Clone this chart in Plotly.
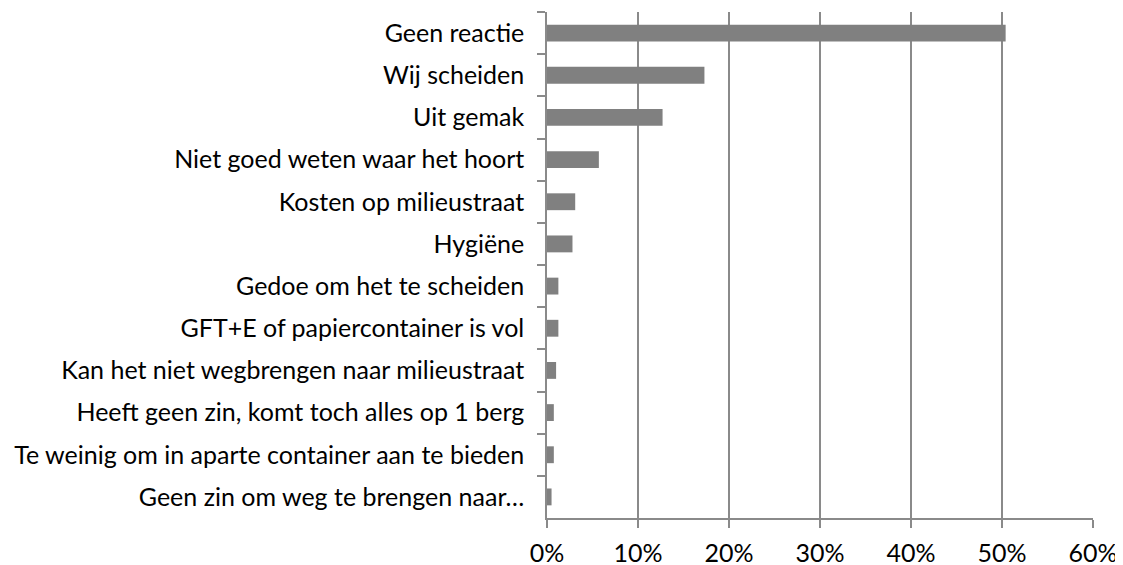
import plotly.graph_objects as go

categories = [
    "Geen reactie",
    "Wij scheiden",
    "Uit gemak",
    "Niet goed weten waar het hoort",
    "Kosten op milieustraat",
    "Hygiëne",
    "Gedoe om het te scheiden",
    "GFT+E of papiercontainer is vol",
    "Kan het niet wegbrengen naar milieustraat",
    "Heeft geen zin, komt toch alles op 1 berg",
    "Te weinig om in aparte container aan te bieden",
    "Geen zin om weg te brengen naar…",
]
values = [0.504, 0.173, 0.127, 0.057, 0.031, 0.028, 0.0125, 0.0125, 0.010, 0.0075, 0.0075, 0.005]

fig = go.Figure(go.Bar(
    y=categories, x=values, orientation='h',
    marker_color='#808080', marker_line_width=0,
))

# page body has an 8px margin, so the plot area is shifted to compensate
fig.update_xaxes(
    range=[0, 0.6], dtick=0.1, tickformat='.0%',
    showgrid=True, gridcolor='#8a8a8a', gridwidth=1.5,
    showline=True, linecolor='#8a8a8a', linewidth=1.5,
    ticks='outside', ticklen=8, tickcolor='#8a8a8a', tickwidth=1.5,
    zeroline=False, ticklabelstandoff=4,
)
fig.update_yaxes(
    autorange='reversed', tickson='boundaries',
    showline=True, linecolor='#8a8a8a', linewidth=1.5,
    ticks='outside', ticklen=8, tickcolor='#8a8a8a', tickwidth=1.5,
    showgrid=False, ticklabelstandoff=16,
)
fig.update_layout(
    width=1123, height=565,
    margin=dict(l=539, r=38, t=4, b=55),
    bargap=0.6,
    plot_bgcolor='white', paper_bgcolor='white',
    font=dict(family='Lato', size=25, color='black'),
    showlegend=False,
)
fig.write_html("out.html")
